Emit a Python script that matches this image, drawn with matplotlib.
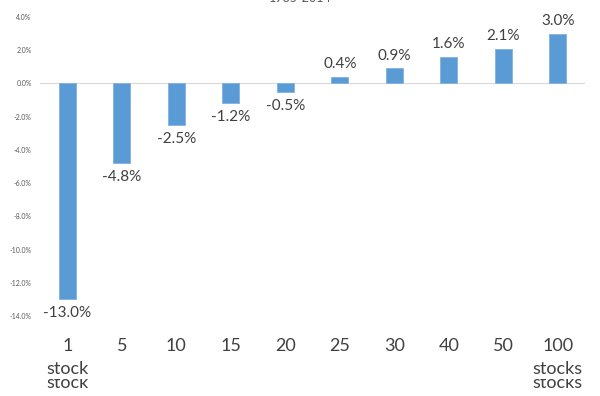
import matplotlib
matplotlib.use('Agg')
import matplotlib.pyplot as plt
from matplotlib.patches import Rectangle

# values (percent)
categories = ['1', '5', '10', '15', '20', '25', '30', '40', '50', '100']
sublabels = ['stock', '', '', '', '', '', '', '', '', 'stocks']
returns = [-13.0, -4.8, -2.5, -1.2, -0.5, 0.4, 0.9, 1.6, 2.1, 3.0]
yticks = [-14, -12, -10, -8, -6, -4, -2, 0, 2, 4]
title = '1985-2014'

BAR_COLOR = '#5b9bd5'
TEXT_COLOR = '#404040'
FONT = 'Lato'

plt.rcParams['font.family'] = [FONT, 'DejaVu Sans']

fig = plt.figure(figsize=(6.0, 3.96), dpi=100)
ax = fig.add_axes([40 / 600, 1 - 316 / 396, 545 / 600, 299 / 396])

xs = list(range(len(categories)))
ax.bar(xs, returns, width=0.31, color=BAR_COLOR, edgecolor='#7fb2e0', linewidth=0.6, zorder=2)
ax.axhline(0, color='#d9d9d9', linewidth=0.8, zorder=1)

for x, v in zip(xs, returns):
    if v >= 0:
        ax.annotate('{0:.1f}%'.format(v), (x, v), xytext=(0, 4), textcoords='offset points',
                    ha='center', va='bottom', fontsize=11, color=TEXT_COLOR)
    else:
        ax.annotate('{0:.1f}%'.format(v), (x, v), xytext=(0, -5), textcoords='offset points',
                    ha='center', va='top', fontsize=11, color=TEXT_COLOR)

ax.set_xlim(-0.5, len(categories) - 0.5)
ax.set_ylim(min(yticks), max(yticks))
ax.set_yticks(yticks)
ax.set_yticklabels(['{0:.1f}%'.format(t) for t in yticks], fontsize=5, color='#595959')
ax.set_xticks(xs)
ax.set_xticklabels(categories, fontsize=13, color=TEXT_COLOR)
ax.tick_params(axis='y', length=0, pad=6)
ax.tick_params(axis='x', length=0, pad=16)
for s in ax.spines.values():
    s.set_visible(False)

# second line under the tick labels, plus the half-hidden repeat seen in the source image
for x, lab in zip(xs, sublabels):
    if not lab:
        continue
    fx = (40 + 54.5 * (x + 0.5)) / 600
    fig.text(fx, 1 - 374 / 396, lab, ha='center', va='baseline', fontsize=13, color=TEXT_COLOR, zorder=3)
    fig.text(fx, 1 - 388 / 396, lab, ha='center', va='baseline', fontsize=13, color=TEXT_COLOR, zorder=3)
    fig.add_artist(Rectangle((fx - 0.06, 1 - 379 / 396), 0.12, 4.5 / 396, transform=fig.transFigure,
                             facecolor='white', edgecolor='none', zorder=4))

fig.text(0.5, 1 - 4 / 396, title, ha='center', va='bottom', fontsize=9, color='#595959')

fig.savefig('out.png', dpi=100)
